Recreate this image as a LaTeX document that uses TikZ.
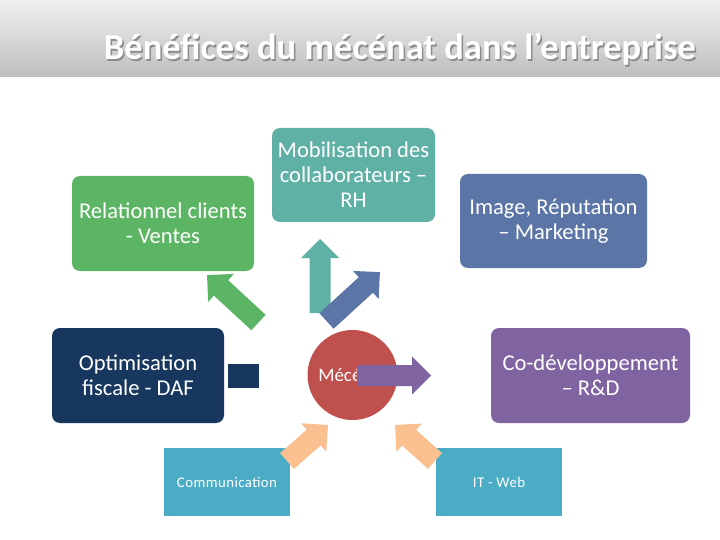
\documentclass[tikz,border=0pt]{standalone}
\usepackage{fontspec}
\setmainfont{Carlito}
\usetikzlibrary{calc}
\definecolor{cgreen}{RGB}{92,181,100}
\definecolor{cteal}{RGB}{95,176,165}
\definecolor{cblue}{RGB}{91,117,167}
\definecolor{cpurple}{RGB}{128,100,162}
\definecolor{cnavy}{RGB}{23,55,94}
\definecolor{cred}{RGB}{192,80,77}
\definecolor{clight}{RGB}{75,172,198}
\definecolor{cpeach}{RGB}{250,192,144}
\definecolor{ctop}{RGB}{240,240,240}
\definecolor{cbot}{RGB}{190,190,190}
\newcommand\blockarrow[3]{%
  \path (#1); \pgfgetlastxy{\bax}{\bay}%
  \path (#2); \pgfgetlastxy{\bbx}{\bby}%
  \pgfmathsetmacro\barang{atan2(\bby-\bay,\bbx-\bax)}%
  \pgfmathsetmacro\barlen{veclen(\bbx-\bax,\bby-\bay)}%
  \fill[#3, shift={(#1)}, rotate=\barang] (0,-10.5) -- ({\barlen-19},-10.5) -- ({\barlen-19},-19) -- (\barlen,0) -- ({\barlen-19},19) -- ({\barlen-19},10.5) -- (0,10.5) -- cycle;}
\tikzset{
  box/.style={rounded corners=8pt, text=white, align=center, inner sep=0pt,
    font=\fontsize{22.6}{25}\selectfont},
  sqbox/.style={fill=clight, text=white, align=center, inner sep=0pt,
    minimum width=126pt, minimum height=68pt,
    font=\fontsize{14.8}{17}\selectfont\addfontfeature{LetterSpace=3}},
}
\begin{document}
\begin{tikzpicture}[x=1pt,y=-1pt]
\useasboundingbox (0,0) rectangle (720,540);
\fill[white] (0,0) rectangle (720,540);
\shade[top color=ctop, bottom color=cbot] (0,0) rectangle (720,77);
\node[anchor=base, text=black!45, font=\fontsize{36.5}{40}\selectfont\bfseries] (titleshadow) at (401.5,61.5) {Bénéfices du mécénat dans l’entreprise};
\node[anchor=base, text=white, font=\fontsize{36.5}{40}\selectfont\bfseries] (title) at (400,60) {Bénéfices du mécénat dans l’entreprise};

\node[box, fill=cgreen, minimum width=182pt, minimum height=95pt] (rel) at (163,223.5) {Relationnel clients\\- Ventes};
\node[box, fill=cteal, minimum width=163pt, minimum height=94pt] (mob) at (353.5,175) {Mobilisation des\\collaborateurs –\\RH};
\node[box, fill=cblue, minimum width=187pt, minimum height=94pt] (img) at (553.5,221) {Image, Réputation\\– Marketing};
\node[box, fill=cpurple, minimum width=199pt, minimum height=95pt] (cod) at (590.5,375.5) {Co-développement\\– R\&D};
\node[box, fill=cnavy, minimum width=172pt, minimum height=95pt] (opt) at (138,375.5) {Optimisation\\fiscale - DAF};
\node[sqbox] (com) at (227,482) {Communication};
\node[sqbox] (itw) at (499,482) {IT - Web};
\node[circle, fill=cred, minimum size=90pt, inner sep=0pt, text=white, font=\fontsize{19}{21}\selectfont] (mec) at (352.5,375) {Mécénat};

\coordinate (tealA) at (320,313);
\coordinate (tealB) at (320,239);
\coordinate (blueA) at (326.5,321);
\coordinate (blueB) at (380,272);
\coordinate (greenA) at (258.5,322.5);
\coordinate (greenB) at (207,275);
\coordinate (purpA) at (357,375.5);
\coordinate (purpB) at (431,375.5);
\coordinate (peLA) at (287,461);
\coordinate (peLB) at (328,425);
\coordinate (peRA) at (435,461);
\coordinate (peRB) at (395,425);

\blockarrow{tealA}{tealB}{cteal}
\blockarrow{blueA}{blueB}{cblue}
\blockarrow{greenA}{greenB}{cgreen}
\fill[cnavy] (228,364) rectangle (259,388);
\blockarrow{purpA}{purpB}{cpurple}
\blockarrow{peLA}{peLB}{cpeach}
\blockarrow{peRA}{peRB}{cpeach}
\end{tikzpicture}
\end{document}
